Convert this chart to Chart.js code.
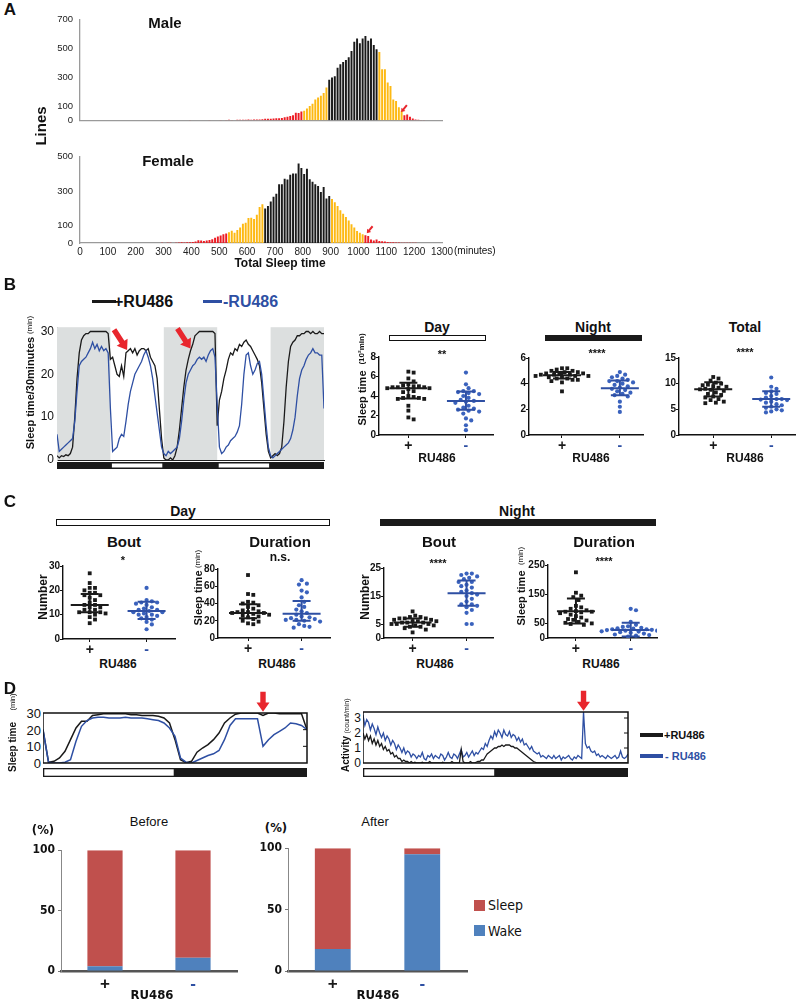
<!DOCTYPE html>
<html>
<head>
<meta charset="utf-8">
<script src="https://cdn.jsdelivr.net/npm/chart.js@4.4.1/dist/chart.umd.min.js"></script>
<style>
  body { margin: 0; width: 800px; height: 1001px; position: relative; overflow: hidden; background: #fff;
         font-family: 'Liberation Sans', Arial, sans-serif; color: #111; }
  canvas { position: absolute; z-index: 2; }
  .t { position: absolute; white-space: nowrap; font-weight: bold; line-height: 1; z-index: 3; }
  .box { position: absolute; box-sizing: border-box; z-index: 1; }
</style>
</head>
<body>
<script>
// ---------- data ----------
// A: histograms of total sleep time, 10 minute bins
const BIN = 10;
const maleStart = 380;
const maleCounts = [0,2,0,0,0,0,0,0,2,0, 0,0,2,0,2,3,2,0,3,4, 3,4,5,4,5,6,6,8,10,10,
  10,12,14,14,16,22,25,30,35,53, 51,61,
  67,82,100,116,145,159,170,190,229,
  282,298,306,365,390,406,420,439,482,547,570,537,570,586,553,570,524,494,
  475,355,355,263,239,145,135,90,67,
  35,41,24,12,6,3,2,2,1,1,1,1,1,1];
const maleYellow = [800, 1150];
const maleBlack = [890, 1060];
const maleArrow = [[1153, 57]];
const femaleStart = 290;
const femaleCounts = [2,0,1,2,0,2,3,4,3,4, 5,6,8,16,14,12,15,18,22,30, 38,44,50,55,
  62,71,60,75,90,112,117,145,146,139,163,209,225,
  200,215,240,268,285,340,340,372,368,396,402,403,460,434,400,430,370,355,340,330,295,324,258,273,
  255,236,215,190,170,150,130,108,90,70,60,50,
  45,40,20,15,20,12,10,8,6,5,4,3,3,2,2,1,1,2,1];
const femaleYellow = [530, 1010];
const femaleBlack = [660, 890];
const femaleArrow = [[1030, 57]];
const histXTicks = [0,100,200,300,400,500,600,700,800,900,1000,1100,1200,1300];
const maleYTicks = [0,100,300,500,700];
const femaleYTicks = [0,100,300,500];

// B: sleep per 30 min over 60 h (121 points)
const bPlus = [1,0.5,1,0.8,1.2,1,1.5,3,10,19,25,28,29,29.5,29.5,30,30,30,30,30,30,30,30,29.5,
  23.5,24,22,20,19.5,22,19.5,25,25.5,26,25,26,24.5,25.5,26,26,25.5,26,24,23,22,19,12,5,
  0.5,0,0,0.5,0,1,3,7,12,17,21,23.5,25.5,27,29,29.5,30,30,30,30,30,30,30,29.5,
  8,14,16,19,21,23.5,25,24.5,26,25.5,27,26.5,27.5,28,27,26.5,25.5,24.5,23.5,22,18,12,6,2,
  0.5,1,1.5,1,1.5,3,9,17,23,26.5,27.5,28,29,29,29.5,29.5,30,30,29.5,30,29.5,29.5,30,29.5,29.5];
const bMinus = [6,2,2.5,3,3.5,4,4.5,5,9,16,22,23,23.5,24,25,26,27.5,26,27,25.5,26.5,25.5,26,25,
  12,2,2.5,3,5,6,5.5,9,13,16,18,20,21,22,23,24.5,25.5,24,22,19,15,11,7,3,
  1.5,1,2,1.5,2,2.5,3,5,9,14,18,20,21,22,22.5,23.5,24,23.5,24,23,24.5,25.5,26,24,
  13,3,1.5,2,3,3.5,4.5,5,5.5,6.5,8,13,20,24.5,25,22,20,21,22.5,23,20,14,8,3,
  1,0.5,1,1.5,2,2.5,3,3.5,4,5,7,10,15,19,21,22,23.5,24.5,25,26,25,25,24.5,24.5,12];
const bNight = [[0,24],[48,72],[96,120]];
const bDay = [[24,48],[72,96]];
const bArrows = [[31.5,25.7],[60,26]];

const ruLabels = ['+', '-'];
// B right: sleep time (10^2 min)
const dayPlus = [6.5,6.4,5.8,5.5,5.2,5.1,5.0,5.0,4.9,4.9,4.9,4.8,4.8,4.7,4.5,4.4,4.0,3.9,3.8,3.8,3.7,3.7,3.0,2.5,1.8,1.6];
const dayMinus = [6.4,5.2,4.8,4.5,4.5,4.4,4.3,4.2,4.0,3.8,3.6,3.5,3.4,3.3,3.0,2.8,2.7,2.6,2.5,2.4,2.2,1.7,1.5,1.0,0.5];
const dayMean = [4.8,3.5], dayHi = [5.35,4.45], dayLo = [3.75,2.6];
const nightPlus = [5.2,5.2,5.1,5.0,5.0,4.9,4.9,4.8,4.8,4.8,4.7,4.7,4.7,4.6,4.6,4.6,4.5,4.5,4.4,4.4,4.3,4.3,4.2,4.1,3.4];
const nightMinus = [4.9,4.7,4.6,4.5,4.4,4.3,4.2,4.2,4.1,4.0,3.9,3.8,3.7,3.6,3.5,3.4,3.3,3.2,3.1,3.0,2.6,2.2,1.8];
const nightMean = [4.65,3.65], nightHi = [4.9,4.25], nightLo = [4.4,3.1];
const totalPlus = [11.3,11.0,10.6,10.2,10.0,9.8,9.7,9.5,9.4,9.2,9.0,8.9,8.8,8.6,8.3,8.0,7.8,7.5,7.3,7.0,6.8,6.5,6.3,6.2];
const totalMinus = [11.2,9.4,9.0,8.5,8.2,8.0,7.6,7.3,7.0,7.0,6.9,6.8,6.5,6.3,6.0,5.8,5.5,5.3,5.0,4.8,4.6,4.4];
const totalMean = [8.9,7.0], totalHi = [10.3,8.5], totalLo = [7.5,5.5];

// C: bouts and durations
const dayBoutPlus = [27,23,21,21,20,19,19,18,18,17,16,15,14,14,13,13,12,12,11,11,11,10.5,10,9,8,6.5];
const dayBoutMinus = [21,16,15.5,15,15,14.5,14,13,12.5,12,12,11.5,11,11,10.5,10,10,9.5,9,8.5,8,7,6,4];
const dayBoutMean = [14,11.5], dayBoutHi = [18.5,15.3], dayBoutLo = [11,8.2];
const dayDurPlus = [73,51,50,42,41,40,38,36,34,32,31,30,30,29,29,28,27,26,25,24,22,20,19,17,16];
const dayDurMinus = [67,63,62,55,53,47,42,38,36,33,31,29,27,25,24,23,22,21,21,20,19,16,14,13,12];
const dayDurMean = [29,28], dayDurHi = [39,43], dayDurLo = [23,20];
const nightBoutPlus = [9.5,8,7.5,7.5,7,7,7,6.5,6.5,6,6,6,5.5,5.5,5.5,5,5,5,4.5,4.5,4,4,3.5,3,2];
const nightBoutMinus = [23,23,22.5,22,21.5,21,20,20,19,18.5,18,17,16.5,16,15.5,15,14,13,12,12,11.5,11,10,9,5,5];
const nightBoutMean = [5.5,16], nightBoutHi = [7,20.5], nightBoutLo = [4,11.5];
const nightDurPlus = [225,155,145,140,130,110,105,100,95,92,90,90,88,85,80,75,70,65,62,60,55,52,50,48,45];
const nightDurMinus = [100,95,55,45,40,38,35,33,32,30,30,28,27,25,25,23,22,20,20,18,15,12,10,8,5];
const nightDurMean = [92,27], nightDurHi = [135,52], nightDurLo = [50,5];

// D: sleep per 30 min over 24 h (49 points)
const dPlus = [20,0.5,1,3,7,14,21,25,25,28.5, 29,29.5,29.5,29.5,29.5,29.5,29,29,28.5,28.5,
  28.5,28,27,24,14,2,0.2,1,6.5,9, 11,14,18,24,27,29.3,30,30,30,30, 28.5,30,30,29.5,29.5,29.5,29.5,29.5,20];
const dMinus = [20,0.5,0,0,0.5,2,13,22,25.5,27, 27.5,27.5,27,27,27,27.5,27,27,27,26.5,
  26,25.5,24,21,16,3,0.5,0,1.5,3, 4.5,5.5,7.5,14,22.5,26.5,26.5,26.5,26.5,26.5, 10,14,17,19,21,24,23.5,22.5,20];
const dTicks = [0, 10, 20, 30];
const dArrowAt = 40;
// D: activity (count/min), 10 minute bins over 24 h
const actMinus = [3.2,2.5,2.9,2.7,2.2,2.6,2.3,1.9,2.4,2.0, 1.7,2.0,1.5,1.8,1.6,1.2,1.5,1.3,0.9,1.2,
  1.0,0.7,1.0,0.6,0.8,0.7,0.4,0.6,0.5,0.3, 0.5,0.4,0.7,0.3,0.2,0.5,0.4,0.6,0.3,0.5,
  0.4,0.3,0.6,0.5,0.2,0.4,0.7,0.4,0.3,0.6, 0.5,0.3,0.6,0.9,0.4,0.5,0.7,0.4,0.6,0.8,
  0.5,0.7,0.6,0.8,1.0,0.9,1.3,1.1,1.5,1.8, 1.6,2.1,1.8,2.2,2.0,1.7,2.2,1.9,1.8,2.1,
  1.7,1.9,1.8,1.5,1.7,1.4,1.6,1.2,1.3,1.1, 0.9,1.1,0.8,0.7,0.6,0.7,0.4,0.5,0.4,0.3,
  0.5,0.4,0.3,0.5,0.3,0.4,0.5,0.2,0.4,0.3, 0.4,0.5,0.3,0.2,0.4,0.3,0.5,0.4,0.3,3.4,
  1.3,1.0,1.1,0.8,0.7,0.8,0.5,0.6,0.4,0.5, 0.4,0.3,0.5,0.4,0.3,0.4,0.5,0.3,0.4,0.8,
  0.4,0.3,0.4,0.6];
const actPlus = [2.0,1.6,1.9,1.5,1.8,1.3,1.6,1.2,1.5,1.1, 1.3,0.9,1.1,0.8,0.9,0.6,0.7,0.4,0.5,0.3,
  0.3,0.1,0.2,0.1,0.1,0,0.1,0,0.05,0, 0,0,0.05,0,0,0,0.1,0,0,0,
  0,0,0,0.05,0,0,0,0,0.1,0, 0,0,0,0.9,0.1,0,0,0,0.1,0,
  0,0.05,0.1,0.1,0.2,0.2,0.4,0.6,0.7,0.8, 0.9,1.0,1.0,1.1,1.1,1.2,1.1,1.2,1.2,1.2,
  1.1,1.1,1.0,1.0,0.9,0.8,0.7,0.6,0.5,0.4, 0.3,0.2,0.1,0.05,0,0,0,0,0,0,
  0,0,0,0,0,0,0,0,0,0, 0,0,0,0,0,0,0,0,0,0, 0,0,0,0,0,0,0,0,0,0, 0,0,0,0,0,0,0,0,0,0,
  0,0,0,0];
const actTicks = [0, 1, 2, 3];
const actArrowAt = 119;

// D bottom: percent sleep / wake
const wakeBefore = [4, 11], sleepBefore = [96, 89];
const wakeAfter = [18, 95], sleepAfter = [82, 5];

// ---------- styles ----------
const BLK = '#1a1a1a', BLU = '#2e4fa3', DOT = '#3a62bd', RED = '#e8262d';
const YEL = '#fdb913', HRED = '#ec1c24';
const NARROW = "'Liberation Sans Narrow','DejaVu Sans Condensed','Liberation Sans',sans-serif";
Chart.defaults.font.family = "'Liberation Sans', Arial, sans-serif";
Chart.defaults.color = '#111';
Chart.defaults.plugins.legend.display = false;
Chart.defaults.plugins.tooltip.enabled = false;
Chart.defaults.animation = false;

// ---------- helpers ----------
function makeChart(area, yW, xH, pad, config) {
  const cv = document.createElement('canvas');
  const w = area.r - area.l + yW + pad.l + pad.r;
  const h = area.b - area.t + xH + pad.t + pad.b;
  cv.width = w; cv.height = h;
  cv.style.left = (area.l - yW - pad.l) + 'px';
  cv.style.top = (area.t - pad.t) + 'px';
  cv.style.width = w + 'px'; cv.style.height = h + 'px';
  document.body.appendChild(cv);
  const o = config.options;
  o.responsive = false;
  o.devicePixelRatio = 1;
  o.layout = {padding: {left: pad.l, right: pad.r, top: pad.t, bottom: pad.b}};
  o.scales.x.afterFit = s => { s.height = xH; };
  o.scales.y.afterFit = s => { s.width = yW; };
  return new Chart(cv, config);
}

function fixedTicks(list) {
  return scale => { scale.ticks = list.map(v => ({value: v})); };
}
const plain = v => String(v);

function T(text, x, y, size, o = {}) {
  const d = document.createElement('div');
  d.className = 't';
  d.textContent = text;
  d.style.left = x + 'px';
  d.style.top = y + 'px';
  d.style.fontSize = size + 'px';
  if (o.w) d.style.fontWeight = o.w;
  if (o.c) d.style.color = o.c;
  if (o.f) d.style.fontFamily = o.f;
  const tx = o.left ? '0' : (o.right ? '-100%' : '-50%');
  d.style.transform = `translate(${tx},-50%)` + (o.rot ? ` rotate(${o.rot}deg)` : '');
  document.body.appendChild(d);
}

function R(x0, y0, x1, y1, fill, border) {
  const d = document.createElement('div');
  d.className = 'box';
  d.style.left = x0 + 'px'; d.style.top = y0 + 'px';
  d.style.width = (x1 - x0) + 'px'; d.style.height = (y1 - y0) + 'px';
  d.style.background = fill;
  if (border) d.style.border = border;
  document.body.appendChild(d);
}

// beeswarm offsets so that markers do not overlap
function swarm(vals, cat, area, xr, yr) {
  const kx = (area.r - area.l) / (xr[1] - xr[0]);
  const ky = (area.b - area.t) / (yr[1] - yr[0]);
  const d = 4.4, placed = [];
  return vals.map(v => {
    const py = v * ky;
    let off = 0;
    for (let k = 0; k < 80; k++) {
      const o = (k % 2 ? 1 : -1) * Math.ceil(k / 2) * d * 0.6;
      if (placed.every(p => (p[0] - o) ** 2 + (p[1] - py) ** 2 >= d * d)) { off = o; break; }
    }
    placed.push([off, py]);
    return {x: cat + off / kx, y: v};
  });
}

// ---------- plugins ----------
function shade(ranges, color) {
  return {id: 'shade', beforeDatasetsDraw(chart) {
    const {ctx, chartArea: a, scales: {x}} = chart;
    ctx.save(); ctx.fillStyle = color;
    ranges.forEach(([s, e]) => {
      const x0 = x.getPixelForValue(s), x1 = x.getPixelForValue(e);
      ctx.fillRect(x0, a.top, x1 - x0, a.bottom - a.top);
    });
    ctx.restore();
  }};
}

function ldBar(light, gap, h, inset) {
  return {id: 'ldBar', afterDraw(chart) {
    const {ctx, chartArea: a, scales: {x}} = chart;
    const y0 = a.bottom + gap;
    ctx.save();
    ctx.fillStyle = BLK;
    ctx.fillRect(a.left, y0, a.right - a.left, h);
    ctx.fillStyle = '#fff';
    light.forEach(([s, e]) => {
      const x0 = x.getPixelForValue(s) + inset, x1 = x.getPixelForValue(e) - inset;
      ctx.fillRect(x0, y0 + inset, x1 - x0, h - 2 * inset);
    });
    ctx.restore();
  }};
}

// box around the plot with inner tick marks on the right side
function frame(ticks) {
  return {id: 'frame', afterDraw(chart) {
    const {ctx, chartArea: a, scales: {y}} = chart;
    ctx.save(); ctx.strokeStyle = '#111'; ctx.lineWidth = 1.5;
    ctx.strokeRect(a.left, a.top, a.right - a.left, a.bottom - a.top);
    ctx.lineWidth = 1;
    ticks.forEach(v => {
      if (v <= y.min || v >= y.max) return;
      const py = y.getPixelForValue(v);
      ctx.beginPath(); ctx.moveTo(a.right, py); ctx.lineTo(a.right - 4, py); ctx.stroke();
    });
    ctx.restore();
  }};
}

function arrows(list, ang, len, head, shaft) {
  return {id: 'arrows', afterDraw(chart) {
    const {ctx, scales: {x, y}} = chart;
    list.forEach(([xv, yv]) => {
      ctx.save();
      ctx.translate(x.getPixelForValue(xv), y.getPixelForValue(yv));
      ctx.rotate(ang * Math.PI / 180);
      ctx.fillStyle = RED;
      const hl = head * 1.4;
      ctx.beginPath();
      ctx.moveTo(0, 0); ctx.lineTo(-hl, -head); ctx.lineTo(-hl, -shaft); ctx.lineTo(-len, -shaft);
      ctx.lineTo(-len, shaft); ctx.lineTo(-hl, shaft); ctx.lineTo(-hl, head); ctx.closePath();
      ctx.fill();
      ctx.restore();
    });
  }};
}

function errBars(mean, hi, lo) {
  return {id: 'errBars', afterDatasetsDraw(chart) {
    const {ctx, scales: {x, y}} = chart;
    ctx.save(); ctx.lineWidth = 2;
    mean.forEach((m, i) => {
      const cx = x.getPixelForValue(i + 1);
      ctx.strokeStyle = i ? BLU : BLK;
      ctx.beginPath();
      ctx.moveTo(cx - 19, y.getPixelForValue(m)); ctx.lineTo(cx + 19, y.getPixelForValue(m));
      [hi[i], lo[i]].forEach(v => {
        ctx.moveTo(cx - 9, y.getPixelForValue(v)); ctx.lineTo(cx + 9, y.getPixelForValue(v));
      });
      ctx.moveTo(cx, y.getPixelForValue(hi[i])); ctx.lineTo(cx, y.getPixelForValue(lo[i]));
      ctx.stroke();
    });
    ctx.restore();
  }};
}

// ---------- A: histograms ----------
function histChart(area, xH, start, counts, yellow, black, yTicks, yMax, showX, arrowAt) {
  const pts = counts.map((c, i) => ({x: start + i * BIN + BIN / 2, y: c}));
  const cols = pts.map(p => {
    const b = p.x - BIN / 2;
    if (b >= black[0] && b <= black[1]) return BLK;
    if (b >= yellow[0] && b <= yellow[1]) return YEL;
    return HRED;
  });
  makeChart(area, 40, xH, {t: 8, r: 20, b: 0, l: 0}, {
    type: 'bar',
    data: {datasets: [{data: pts, backgroundColor: cols, barPercentage: 0.7, categoryPercentage: 1}]},
    options: {scales: {
      x: {type: 'linear', min: 0, max: 1300, offset: false, afterBuildTicks: fixedTicks(histXTicks),
          grid: {display: false, drawTicks: false}, border: {color: '#9a9a9a', width: 1.3},
          ticks: {display: showX, callback: plain, font: {size: 10}, color: '#222', padding: 3,
                  maxRotation: 0, autoSkip: false}},
      y: {min: 0, max: yMax, afterBuildTicks: fixedTicks(yTicks),
          grid: {display: false, drawTicks: false}, border: {color: '#9a9a9a', width: 1.3},
          ticks: {font: {size: 9.5}, color: '#222', padding: 7, autoSkip: false}}
    }},
    plugins: [arrows(arrowAt, 130, 9, 2.6, 1)]
  });
}
histChart({l: 80, t: 15, r: 442, b: 133}, 0, maleStart, maleCounts, maleYellow, maleBlack, maleYTicks, 700, false, maleArrow);
histChart({l: 80, t: 152, r: 442, b: 243}, 14, femaleStart, femaleCounts, femaleYellow, femaleBlack, femaleYTicks, 500, true, femaleArrow);

// ---------- B: sleep profile ----------
makeChart({l: 57, t: 323, r: 324, b: 460}, 30, 0, {t: 6, r: 3, b: 12, l: 0}, {
  type: 'line',
  data: {datasets: [
    {data: bMinus.map((v, i) => ({x: i, y: v})), borderColor: BLU, borderWidth: 1.3, pointRadius: 0},
    {data: bPlus.map((v, i) => ({x: i, y: v})), borderColor: BLK, borderWidth: 1.3, pointRadius: 0}
  ]},
  options: {scales: {
    x: {type: 'linear', min: 0, max: 120, ticks: {display: false}, grid: {display: false, drawTicks: false},
        border: {color: '#222', width: 1}},
    y: {min: 0, max: 31, afterBuildTicks: fixedTicks([0, 10, 20, 30]), grid: {display: false, drawTicks: false},
        border: {color: '#aaa', width: 1}, ticks: {font: {size: 12}, color: '#111', padding: 3, autoSkip: false}}
  }},
  plugins: [shade(bNight, '#dcdfdf'), ldBar(bDay, 2, 7, 1.5), arrows(bArrows, 57, 24, 6.5, 2.7)]
});

// ---------- scatter plots (B right, C) ----------
function dotChart(area, xr, yr, yTicks, plus, minus, mean, hi, lo) {
  const pp = swarm(plus, 1, area, xr, yr), mm = swarm(minus, 2, area, xr, yr);
  makeChart(area, 22, 18, {t: 6, r: 4, b: 0, l: 0}, {
    type: 'scatter',
    data: {datasets: [
      {data: pp, pointStyle: 'rect', pointRadius: 2.7, backgroundColor: BLK, borderWidth: 0},
      {data: mm, pointStyle: 'circle', pointRadius: 2.1, backgroundColor: DOT, borderWidth: 0}
    ]},
    options: {scales: {
      x: {type: 'linear', min: xr[0], max: xr[1], afterBuildTicks: fixedTicks([1, 2]),
          grid: {display: true, drawOnChartArea: false, tickLength: 3, color: '#111'},
          border: {color: '#111', width: 1.4},
          ticks: {callback: (v, i) => ruLabels[i], color: c => c.index ? BLU : BLK,
                  font: {size: 14, weight: 'bold'}, padding: 0, autoSkip: false}},
      y: {min: yr[0], max: yr[1], afterBuildTicks: fixedTicks(yTicks),
          grid: {display: true, drawOnChartArea: false, tickLength: 3, color: '#111'},
          border: {color: '#111', width: 1.4},
          ticks: {font: {size: 10, weight: 'bold'}, color: '#111', padding: 0, autoSkip: false}}
    }},
    plugins: [errBars(mean, hi, lo)]
  });
}
dotChart({l: 379, t: 357, r: 493, b: 435}, [0.49, 2.47], [0, 8], [0, 2, 4, 6, 8], dayPlus, dayMinus, dayMean, dayHi, dayLo);
dotChart({l: 529, t: 358, r: 643, b: 435}, [0.43, 2.40], [0, 6], [0, 2, 4, 6], nightPlus, nightMinus, nightMean, nightHi, nightLo);
dotChart({l: 679, t: 358, r: 795, b: 435}, [0.41, 2.41], [0, 15], [0, 5, 10, 15], totalPlus, totalMinus, totalMean, totalHi, totalLo);

dotChart({l: 63, t: 566, r: 175, b: 639}, [0.53, 2.5], [0, 30], [0, 10, 20, 30], dayBoutPlus, dayBoutMinus, dayBoutMean, dayBoutHi, dayBoutLo);
dotChart({l: 218, t: 569, r: 330, b: 638}, [0.44, 2.53], [0, 80], [0, 20, 40, 60, 80], dayDurPlus, dayDurMinus, dayDurMean, dayDurHi, dayDurLo);
dotChart({l: 384, t: 568, r: 493, b: 638}, [0.47, 2.49], [0, 25], [0, 5, 15, 25], nightBoutPlus, nightBoutMinus, nightBoutMean, nightBoutHi, nightBoutLo);
dotChart({l: 548, t: 565, r: 657, b: 638}, [0.49, 2.48], [0, 250], [0, 50, 150, 250], nightDurPlus, nightDurMinus, nightDurMean, nightDurHi, nightDurLo);

// ---------- D: sleep and activity ----------
function boxLine(area, xMax, yMax, ticks, fontSize, first, second, light, arrowAt) {
  const padT = 30;
  const ch = makeChart(area, 0, 0, {t: padT, r: 3, b: 16, l: 0}, {
    type: 'line',
    data: {datasets: [
      {data: first.data.map((v, i) => ({x: i, y: v})), borderColor: first.color, borderWidth: first.width, pointRadius: 0},
      {data: second.data.map((v, i) => ({x: i, y: v})), borderColor: second.color, borderWidth: second.width, pointRadius: 0}
    ]},
    options: {scales: {
      x: {type: 'linear', min: 0, max: xMax, display: false},
      y: {min: 0, max: yMax, display: false}
    }},
    plugins: [frame(ticks), ldBar(light, 5, 9, 1.3), arrows(arrowAt, 90, 20, 6.5, 2.7)]
  });
  // tick labels placed from the chart's own y scale
  ticks.forEach(v => T(String(v), area.l - 2, area.t - padT + ch.scales.y.getPixelForValue(v), fontSize,
                       {w: 'normal', right: true}));
}
boxLine({l: 43, t: 713, r: 307, b: 763}, 48, 30, dTicks, 13,
        {data: dMinus, color: BLU, width: 1.5}, {data: dPlus, color: BLK, width: 1.5},
        [[0, 24]], [[dArrowAt, 30.8]]);
boxLine({l: 363, t: 712, r: 628, b: 763}, 143, 3.4, actTicks, 12,
        {data: actPlus, color: BLK, width: 1.3}, {data: actMinus, color: BLU, width: 1.3},
        [[0, 71.5]], [[actArrowAt, 3.48]]);

// ---------- D: percent bars ----------
function pctChart(area, wake, sleep) {
  makeChart(area, 28, 24, {t: 8, r: 4, b: 0, l: 0}, {
    type: 'bar',
    data: {labels: ruLabels, datasets: [
      {data: wake, backgroundColor: '#4f81bd', barPercentage: 0.4, categoryPercentage: 1},
      {data: sleep, backgroundColor: '#c0504d', barPercentage: 0.4, categoryPercentage: 1}
    ]},
    options: {scales: {
      x: {stacked: true, grid: {display: false, drawTicks: false}, border: {color: '#555', width: 2.5},
          ticks: {color: c => c.index ? BLU : BLK, font: {size: 17, weight: 'bold'}, padding: 3}},
      y: {stacked: true, min: 0, max: 100, afterBuildTicks: fixedTicks([0, 50, 100]),
          grid: {display: true, drawOnChartArea: false, tickLength: 3, color: '#777'},
          border: {color: '#888', width: 1},
          ticks: {font: {size: 12, weight: 'bold', family: NARROW}, color: '#111', padding: 3, autoSkip: false}}
    }}
  });
}
pctChart({l: 61, t: 848, r: 237, b: 971}, wakeBefore, sleepBefore);
pctChart({l: 288, t: 846, r: 467, b: 971}, wakeAfter, sleepAfter);

// ---------- text and decorations ----------
T('A', 10, 9, 17);
T('Male', 165, 22, 15);
T('Female', 168, 160, 15);
T('Lines', 40, 126, 15, {rot: -90});
T('(minutes)', 454, 251, 10, {w: 'normal', left: true});
T('Total Sleep time', 280, 263, 12);

T('B', 10, 284, 17);
R(92, 300, 116, 303, BLK);
T('+RU486', 114, 302, 16, {left: true});
R(203, 300, 222, 303, BLU);
T('-RU486', 223, 302, 16, {left: true, c: BLU});
T('Sleep time/30minutes', 30, 393, 11, {rot: -90});
T('(min)', 30, 325, 8, {rot: -90, w: 'normal'});

T('Day', 437, 327, 14);
R(389, 335, 486, 341, '#fff', '1.5px solid #111');
T('Night', 593, 327, 14);
R(545, 335, 642, 341, BLK);
T('Total', 745, 327, 14);
T('**', 442, 354, 11);
T('****', 597, 353, 11);
T('****', 745, 352, 11);
T('RU486', 437, 458, 12);
T('RU486', 591, 458, 12);
T('RU486', 745, 458, 12);
T('Sleep time', 362, 398, 11, {rot: -90});
T('(10²min)', 362, 349, 8, {rot: -90});

T('C', 10, 501, 17);
T('Day', 183, 511, 14);
R(56, 519, 330, 526, '#fff', '1.5px solid #111');
T('Night', 517, 511, 14);
R(380, 519, 656, 526, BLK);
T('Bout', 124, 541, 15);
T('*', 123, 560, 11);
T('Duration', 280, 541, 15);
T('n.s.', 280, 557, 12);
T('Bout', 439, 541, 15);
T('****', 438, 563, 11);
T('Duration', 604, 541, 15);
T('****', 604, 561, 11);
T('Number', 43, 597, 12, {rot: -90});
T('Number', 365, 597, 12, {rot: -90});
T('Sleep time', 198, 598, 11, {rot: -90});
T('(min)', 198, 559, 8, {rot: -90, w: 'normal'});
T('Sleep time', 521, 598, 11, {rot: -90});
T('(min)', 521, 556, 8, {rot: -90, w: 'normal'});
T('RU486', 118, 664, 12);
T('RU486', 277, 664, 12);
T('RU486', 435, 664, 12);
T('RU486', 601, 664, 12);

T('D', 10, 688, 17);
T('Sleep time', 13, 747, 10, {rot: -90});
T('(min)', 13, 702, 7.5, {rot: -90, w: 'normal'});
T('Activity', 346, 754, 10, {rot: -90});
T('(count/min)', 346, 716, 7, {rot: -90, w: 'normal'});
R(640, 733, 663, 737, BLK);
T('+RU486', 664, 735, 11, {left: true});
R(640, 754, 663, 758, BLU);
T('- RU486', 665, 756, 11, {left: true, c: BLU});

T('(%)', 43, 829, 13, {f: NARROW});
T('Before', 149, 821, 13, {w: 'normal'});
T('(%)', 276, 827, 13, {f: NARROW});
T('After', 375, 821, 13, {w: 'normal'});
T('RU486', 152, 994, 13, {f: NARROW});
T('RU486', 378, 994, 13, {f: NARROW});
R(474, 900, 485, 911, '#c0504d');
T('Sleep', 488, 905, 14, {w: 'normal', f: NARROW, left: true});
R(474, 925, 485, 936, '#4f81bd');
T('Wake', 488, 931, 14, {w: 'normal', f: NARROW, left: true});
</script>
</body>
</html>
